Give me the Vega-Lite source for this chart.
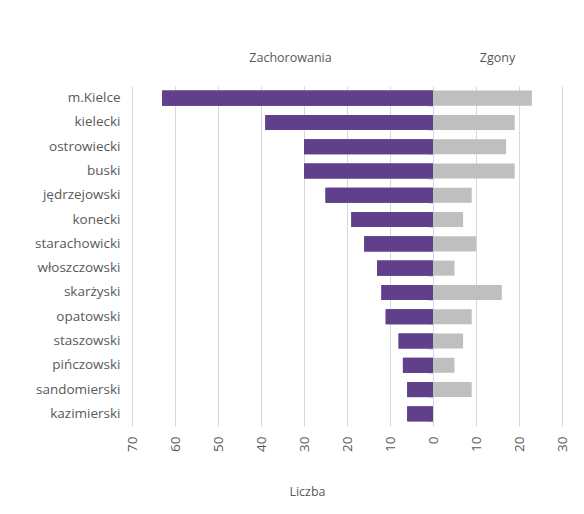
{
  "$schema": "https://vega.github.io/schema/vega-lite/v6.json",
  "padding": {"left": 34, "top": 51, "right": 10, "bottom": 10},
  "background": "white",
  "spacing": 0,
  "bounds": "flush",
  "config": {
    "font": "Open Sans",
    "view": {"stroke": null},
    "axis": {"labelColor": "#595959", "labelFontSize": 13.5, "titleColor": "#595959", "titleFontSize": 12.5, "titleFontWeight": "normal", "gridColor": "#d9d9d9", "domainColor": "#d9d9d9", "tickColor": "#d9d9d9"},
    "title": {"color": "#595959", "fontSize": 12.5, "fontWeight": "normal", "anchor": "middle", "offset": 22}
  },
  "data": {"values": [
    {"powiat": "m.Kielce", "zach": 63, "zgony": 23},
    {"powiat": "kielecki", "zach": 39, "zgony": 19},
    {"powiat": "ostrowiecki", "zach": 30, "zgony": 17},
    {"powiat": "buski", "zach": 30, "zgony": 19},
    {"powiat": "jędrzejowski", "zach": 25, "zgony": 9},
    {"powiat": "konecki", "zach": 19, "zgony": 7},
    {"powiat": "starachowicki", "zach": 16, "zgony": 10},
    {"powiat": "włoszczowski", "zach": 13, "zgony": 5},
    {"powiat": "skarżyski", "zach": 12, "zgony": 16},
    {"powiat": "opatowski", "zach": 11, "zgony": 9},
    {"powiat": "staszowski", "zach": 8, "zgony": 7},
    {"powiat": "pińczowski", "zach": 7, "zgony": 5},
    {"powiat": "sandomierski", "zach": 6, "zgony": 9},
    {"powiat": "kazimierski", "zach": 6, "zgony": 0}
  ]},
  "hconcat": [
    {
      "width": 301,
      "height": 340,
      "title": {"text": "Zachorowania", "dx": 8},
      "layer": [
        {
          "mark": {"type": "bar", "color": "#603f8b"},
          "encoding": {
            "y": {"field": "powiat", "type": "nominal", "sort": null,
                  "scale": {"paddingInner": 0.38, "paddingOuter": 0.19},
                  "axis": {"title": null, "ticks": false, "domain": false, "labelPadding": 12}},
            "x": {"field": "zach", "type": "quantitative",
                  "scale": {"domain": [0, 70], "reverse": true, "nice": false},
                  "axis": {"values": [0, 10, 20, 30, 40, 50, 60, 70], "labelAngle": -90, "ticks": false, "domain": false, "labelPadding": 10, "title": "Liczba", "titlePadding": 34, "titleX": 175}}
          }
        },
        {
          "mark": {"type": "bar", "color": "#603f8b"},
          "encoding": {
            "y": {"field": "powiat", "type": "nominal", "sort": null,
                  "axis": {"orient": "right", "title": null, "labels": false, "ticks": true, "tickSize": -5, "tickBand": "extent", "domain": true, "minExtent": 0, "offset": 0, "labelPadding": 0}},
            "x": {"field": "zach", "type": "quantitative"}
          }
        }
      ],
      "resolve": {"axis": {"y": "independent"}}
    },
    {
      "width": 129,
      "height": 340,
      "title": "Zgony",
      "mark": {"type": "bar", "color": "#bfbfbf"},
      "encoding": {
        "y": {"field": "powiat", "type": "nominal", "sort": null,
              "scale": {"paddingInner": 0.38, "paddingOuter": 0.19},
              "axis": null},
        "x": {"field": "zgony", "type": "quantitative",
              "scale": {"domain": [0, 30], "nice": false},
              "axis": {"values": [10, 20, 30], "labelAngle": -90, "ticks": false, "domain": false, "labelPadding": 10, "title": null}}
      }
    }
  ]
}
